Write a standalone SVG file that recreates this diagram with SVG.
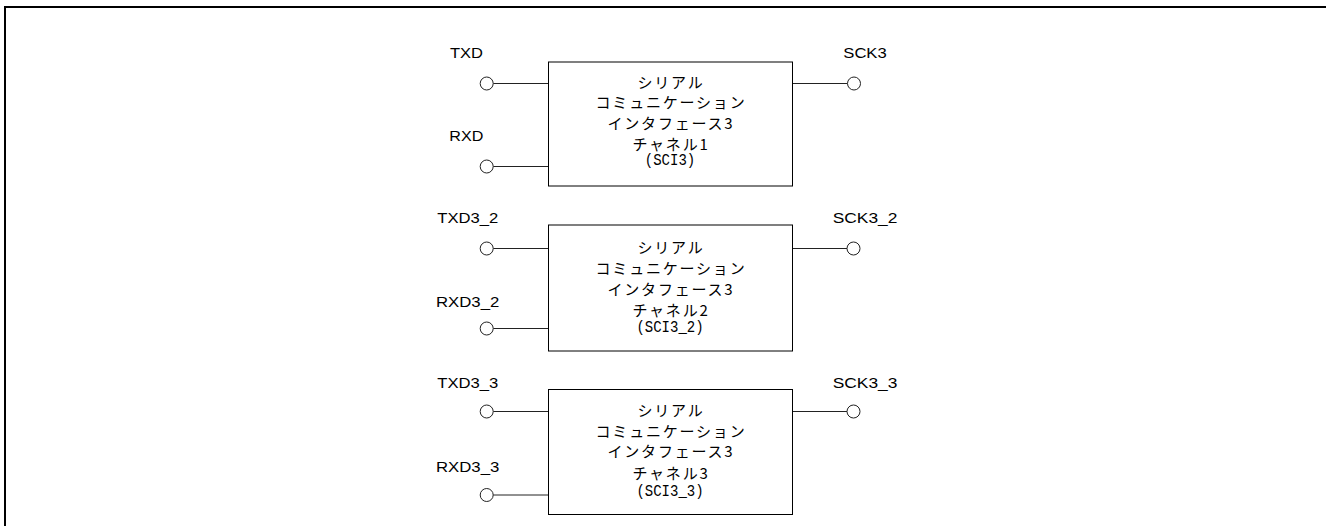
<svg xmlns="http://www.w3.org/2000/svg" width="1326" height="526" viewBox="0 0 1326 526">
<style>
.frame{fill:none;stroke:#000;stroke-width:2}
.box{fill:#fff;stroke:#000;stroke-width:1}
.wire{fill:none;stroke:#222;stroke-width:1}
.pin{fill:#fff;stroke:#222;stroke-width:1}
.lbl{font-family:"Liberation Sans",Arial,sans-serif;font-size:14px;fill:#000}
.jp{font-family:"Noto Sans CJK JP","Noto Sans CJK SC",sans-serif;font-size:15px;letter-spacing:1.8px;fill:#000;text-anchor:middle}
.mono{font-family:"Liberation Mono",monospace;font-size:16px;fill:#000;text-anchor:middle}
</style>
<rect width="1326" height="526" fill="#fff"/>
<path class="frame" d="M5,527 V7 H1327"/>

<g id="connectors">
  <line class="wire" x1="493.2" y1="83.5" x2="548.5" y2="83.5"/>
  <line class="wire" x1="493.2" y1="166.5" x2="548.5" y2="166.5"/>
  <line class="wire" x1="792.5" y1="83.5" x2="847.5" y2="83.5"/>
  <line class="wire" x1="493.2" y1="248.5" x2="548.5" y2="248.5"/>
  <line class="wire" x1="493.2" y1="328.5" x2="548.5" y2="328.5"/>
  <line class="wire" x1="792.5" y1="248.5" x2="847" y2="248.5"/>
  <line class="wire" x1="493.2" y1="411.5" x2="548.5" y2="411.5"/>
  <line class="wire" x1="493.2" y1="495" x2="548.5" y2="495"/>
  <line class="wire" x1="792.5" y1="411.5" x2="847" y2="411.5"/>
</g>

<g id="sci3-ch1">
  <rect class="box" x="548.5" y="62" width="244" height="124"/>
  <text class="jp" x="671" y="87.5">シリアル</text>
  <text class="jp" x="671" y="108">コミュニケーション</text>
  <text class="jp" x="671" y="129">インタフェース3</text>
  <text class="jp" x="671" y="150">チャネル1</text>
  <text class="mono" x="670" y="165" textLength="50.4" lengthAdjust="spacingAndGlyphs">(SCI3)</text>
</g>
<g id="pin-txd">
  <circle class="pin" cx="486.7" cy="83.5" r="6.5"/>
  <text class="lbl" x="450" y="58" textLength="33" lengthAdjust="spacingAndGlyphs">TXD</text>
</g>
<g id="pin-rxd">
  <circle class="pin" cx="486.7" cy="166.5" r="6.5"/>
  <text class="lbl" x="449.3" y="141" textLength="34" lengthAdjust="spacingAndGlyphs">RXD</text>
</g>
<g id="pin-sck3">
  <circle class="pin" cx="854" cy="83.5" r="6.5"/>
  <text class="lbl" x="843.3" y="58.3" textLength="43.4" lengthAdjust="spacingAndGlyphs">SCK3</text>
</g>

<g id="sci3-ch2">
  <rect class="box" x="548.5" y="225" width="244" height="126"/>
  <text class="jp" x="671" y="252.5">シリアル</text>
  <text class="jp" x="671" y="274">コミュニケーション</text>
  <text class="jp" x="671" y="295">インタフェース3</text>
  <text class="jp" x="671" y="316">チャネル2</text>
  <text class="mono" x="670" y="332" textLength="67.2" lengthAdjust="spacingAndGlyphs">(SCI3_2)</text>
</g>
<g id="pin-txd3_2">
  <circle class="pin" cx="486.7" cy="248.5" r="6.5"/>
  <text class="lbl" x="437.3" y="223.3" textLength="61" lengthAdjust="spacingAndGlyphs">TXD3_2</text>
</g>
<g id="pin-rxd3_2">
  <circle class="pin" cx="486.7" cy="328.5" r="6.5"/>
  <text class="lbl" x="436" y="307.3" textLength="63.3" lengthAdjust="spacingAndGlyphs">RXD3_2</text>
</g>
<g id="pin-sck3_2">
  <circle class="pin" cx="853.5" cy="248.5" r="6.5"/>
  <text class="lbl" x="832.7" y="222.7" textLength="64.7" lengthAdjust="spacingAndGlyphs">SCK3_2</text>
</g>

<g id="sci3-ch3">
  <rect class="box" x="548.5" y="389.5" width="244" height="125"/>
  <text class="jp" x="671" y="415.7">シリアル</text>
  <text class="jp" x="671" y="436.7">コミュニケーション</text>
  <text class="jp" x="671" y="457.4">インタフェース3</text>
  <text class="jp" x="671" y="479">チャネル3</text>
  <text class="mono" x="670" y="495.5" textLength="67.2" lengthAdjust="spacingAndGlyphs">(SCI3_3)</text>
</g>
<g id="pin-txd3_3">
  <circle class="pin" cx="486.7" cy="411.5" r="6.5"/>
  <text class="lbl" x="437.3" y="387.5" textLength="61" lengthAdjust="spacingAndGlyphs">TXD3_3</text>
</g>
<g id="pin-rxd3_3">
  <circle class="pin" cx="486.7" cy="495" r="6.5"/>
  <text class="lbl" x="436" y="471.5" textLength="63.3" lengthAdjust="spacingAndGlyphs">RXD3_3</text>
</g>
<g id="pin-sck3_3">
  <circle class="pin" cx="853.5" cy="411.5" r="6.5"/>
  <text class="lbl" x="832.7" y="387.5" textLength="64.7" lengthAdjust="spacingAndGlyphs">SCK3_3</text>
</g>
</svg>
